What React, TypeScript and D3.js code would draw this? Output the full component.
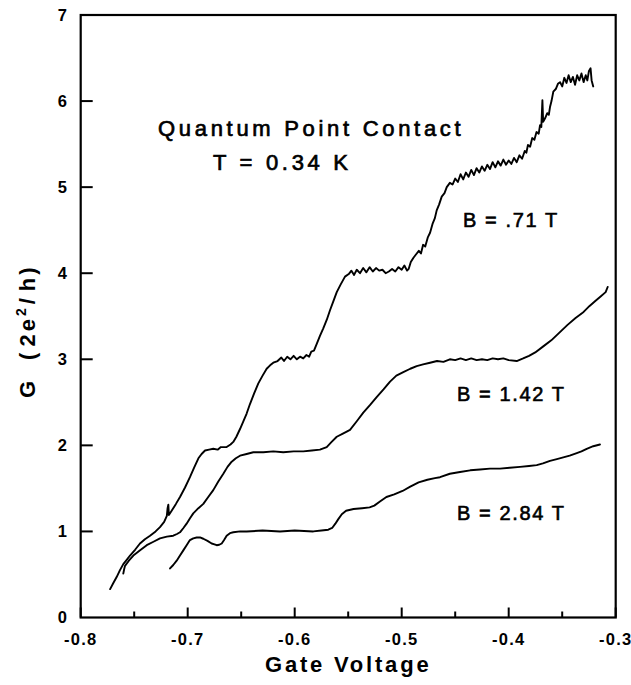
import React from "react";
import * as d3 from "d3";

type Pt = [number, number];

const xMajorTicks = [-0.8, -0.7, -0.6, -0.5, -0.4, -0.3];
const xTickLabels = ["-0.8", "-0.7", "-0.6", "-0.5", "-0.4", "-0.3"];
const xMinorTicks = [-0.75, -0.65, -0.55, -0.45, -0.35];
const yTicks = [0, 1, 2, 3, 4, 5, 6, 7];
const yTickLabels = ["0", "1", "2", "3", "4", "5", "6", "7"];

const seriesB071: Pt[] = [
  [-0.7725, 0.33], [-0.7695, 0.40], [-0.7664, 0.47], [-0.7633, 0.55], [-0.7602, 0.62], [-0.757, 0.67],
  [-0.7539, 0.72], [-0.749, 0.79], [-0.7446, 0.86], [-0.74, 0.91], [-0.7352, 0.95], [-0.73, 1.0],
  [-0.7259, 1.05], [-0.722, 1.11], [-0.7195, 1.18], [-0.7188, 1.27], [-0.7181, 1.31], [-0.7176, 1.19],
  [-0.715, 1.24], [-0.711, 1.32], [-0.7072, 1.40], [-0.7025, 1.51], [-0.6979, 1.63], [-0.694, 1.74],
  [-0.69, 1.85], [-0.687, 1.90], [-0.6838, 1.94], [-0.68, 1.95], [-0.6761, 1.96], [-0.672, 1.95],
  [-0.669, 1.98], [-0.6636, 1.98], [-0.66, 2.01], [-0.6574, 2.04], [-0.6545, 2.10], [-0.6511, 2.19],
  [-0.648, 2.28], [-0.6449, 2.37], [-0.6418, 2.48], [-0.638, 2.60], [-0.634, 2.72], [-0.63, 2.81],
  [-0.6262, 2.89], [-0.623, 2.93], [-0.62, 2.96], [-0.616, 2.98],
  [-0.6125, 3.02], [-0.61, 2.98], [-0.607, 3.03], [-0.604, 3.0], [-0.601, 3.04], [-0.598, 3.0],
  [-0.595, 3.03], [-0.592, 3.01], [-0.589, 3.05], [-0.5865, 3.03], [-0.5845, 3.09],
  [-0.582, 3.10], [-0.5794, 3.18], [-0.5765, 3.27], [-0.5733, 3.36], [-0.57, 3.46], [-0.567, 3.57],
  [-0.564, 3.67], [-0.5607, 3.78], [-0.557, 3.87], [-0.553, 3.96], [-0.5495, 3.99],
  [-0.547, 4.03], [-0.5445, 3.98], [-0.542, 4.04], [-0.539, 4.0], [-0.536, 4.06], [-0.533, 4.01],
  [-0.53, 4.07], [-0.527, 4.02], [-0.524, 4.06], [-0.521, 4.03], [-0.518, 4.04], [-0.515, 4.0],
  [-0.512, 4.02], [-0.509, 4.05], [-0.506, 4.02], [-0.503, 4.07], [-0.5, 4.04], [-0.4975, 4.09],
  [-0.495, 4.03], [-0.4935, 4.05],
  [-0.4915, 4.13], [-0.489, 4.18], [-0.4865, 4.22], [-0.484, 4.26], [-0.482, 4.23], [-0.48, 4.33],
  [-0.478, 4.31], [-0.4755, 4.42], [-0.4735, 4.47], [-0.471, 4.58], [-0.469, 4.64], [-0.4673, 4.73],
  [-0.465, 4.80], [-0.4626, 4.89], [-0.46, 4.93], [-0.4579, 5.0], [-0.455, 5.05],
  [-0.4525, 5.03], [-0.45, 5.10], [-0.4475, 5.06], [-0.445, 5.15], [-0.4425, 5.09], [-0.44, 5.17],
  [-0.4375, 5.12], [-0.435, 5.20], [-0.4325, 5.14], [-0.43, 5.22], [-0.4275, 5.17], [-0.425, 5.24],
  [-0.4225, 5.19], [-0.42, 5.26], [-0.4175, 5.21], [-0.415, 5.29], [-0.4125, 5.23], [-0.41, 5.30],
  [-0.4075, 5.25], [-0.405, 5.32], [-0.4025, 5.26], [-0.4, 5.31], [-0.3975, 5.27], [-0.395, 5.34],
  [-0.3925, 5.29], [-0.39, 5.37], [-0.3875, 5.33], [-0.385, 5.42],
  [-0.3835, 5.40], [-0.382, 5.49], [-0.38, 5.47], [-0.378, 5.57], [-0.376, 5.55], [-0.374, 5.64],
  [-0.372, 5.62], [-0.3707, 5.72], [-0.3695, 5.70], [-0.3685, 6.01], [-0.3678, 5.76], [-0.366, 5.80],
  [-0.364, 5.86], [-0.3625, 5.84], [-0.3614, 5.93], [-0.36, 6.0], [-0.3583, 6.11], [-0.356, 6.14],
  [-0.354, 6.20],
  [-0.352, 6.22], [-0.35, 6.17], [-0.348, 6.27], [-0.346, 6.21], [-0.344, 6.30], [-0.342, 6.22],
  [-0.34, 6.28], [-0.338, 6.19], [-0.336, 6.30], [-0.334, 6.24], [-0.332, 6.32], [-0.33, 6.22],
  [-0.328, 6.30], [-0.3265, 6.24], [-0.325, 6.35], [-0.3235, 6.38], [-0.3225, 6.24], [-0.321, 6.17],
];

const seriesB142: Pt[] = [
  [-0.7602, 0.51], [-0.7594, 0.56], [-0.7586, 0.60], [-0.755, 0.66], [-0.7508, 0.72], [-0.7445, 0.78],
  [-0.7383, 0.84], [-0.732, 0.88], [-0.7259, 0.92], [-0.7195, 0.94], [-0.7135, 0.95], [-0.71, 0.97],
  [-0.7072, 0.99], [-0.704, 1.04], [-0.701, 1.09], [-0.698, 1.15], [-0.6948, 1.21], [-0.69, 1.27],
  [-0.6854, 1.32], [-0.6808, 1.40], [-0.6761, 1.48], [-0.6714, 1.58], [-0.6667, 1.67], [-0.6628, 1.75],
  [-0.6589, 1.81], [-0.655, 1.85], [-0.6511, 1.88], [-0.6449, 1.90], [-0.6387, 1.92], [-0.6293, 1.92],
  [-0.62, 1.93], [-0.6107, 1.92], [-0.601, 1.93], [-0.592, 1.93], [-0.584, 1.94], [-0.5764, 1.95],
  [-0.5701, 1.98], [-0.5655, 2.04], [-0.5607, 2.10], [-0.5545, 2.14], [-0.5483, 2.18], [-0.542, 2.28],
  [-0.5359, 2.38], [-0.5295, 2.47], [-0.5234, 2.56], [-0.517, 2.65], [-0.5109, 2.74], [-0.505, 2.81],
  [-0.4985, 2.85], [-0.492, 2.89], [-0.486, 2.92], [-0.48, 2.94], [-0.4735, 2.96], [-0.467, 2.98],
  [-0.461, 2.97], [-0.455, 3.0], [-0.45, 2.99], [-0.445, 3.01], [-0.44, 2.99], [-0.435, 3.01],
  [-0.43, 2.99], [-0.425, 3.0], [-0.42, 2.99], [-0.415, 3.01], [-0.41, 3.0], [-0.405, 3.01],
  [-0.4, 2.99], [-0.3925, 2.98], [-0.3865, 3.01], [-0.381, 3.04], [-0.3752, 3.08], [-0.3677, 3.15],
  [-0.3602, 3.22], [-0.3526, 3.31], [-0.345, 3.40], [-0.3375, 3.48], [-0.33, 3.55], [-0.3244, 3.62],
  [-0.3188, 3.68], [-0.3141, 3.73], [-0.3094, 3.78], [-0.3075, 3.84],
];

const seriesB284: Pt[] = [
  [-0.7165, 0.57], [-0.7135, 0.61], [-0.7103, 0.66], [-0.7072, 0.72], [-0.7041, 0.78], [-0.701, 0.84],
  [-0.6979, 0.90], [-0.6948, 0.92], [-0.6916, 0.93], [-0.6885, 0.93], [-0.6854, 0.915], [-0.6815, 0.89],
  [-0.6776, 0.86], [-0.675, 0.85], [-0.6729, 0.84], [-0.6705, 0.845], [-0.6682, 0.86], [-0.666, 0.90],
  [-0.6636, 0.95], [-0.6605, 0.98], [-0.6574, 0.99], [-0.651, 1.0], [-0.6449, 1.0], [-0.63, 1.01],
  [-0.6137, 1.0], [-0.6, 1.01], [-0.5826, 1.0], [-0.575, 1.01], [-0.5686, 1.02], [-0.565, 1.04],
  [-0.562, 1.09], [-0.5594, 1.14], [-0.556, 1.20], [-0.552, 1.24], [-0.545, 1.26], [-0.537, 1.27],
  [-0.53, 1.28], [-0.5256, 1.30], [-0.52, 1.35], [-0.5143, 1.40], [-0.507, 1.43], [-0.4992, 1.47],
  [-0.492, 1.52], [-0.4842, 1.57], [-0.476, 1.60], [-0.469, 1.62], [-0.4642, 1.63], [-0.455, 1.67],
  [-0.4455, 1.69], [-0.436, 1.71], [-0.4268, 1.72], [-0.4175, 1.73], [-0.4081, 1.73], [-0.399, 1.74],
  [-0.3894, 1.75], [-0.381, 1.76], [-0.3738, 1.77], [-0.368, 1.79], [-0.3614, 1.82], [-0.355, 1.84],
  [-0.349, 1.86], [-0.343, 1.88], [-0.3364, 1.91], [-0.332, 1.93], [-0.3271, 1.96], [-0.321, 1.99],
  [-0.3147, 2.01],
];

const curveLabels = ["B = .71 T", "B = 1.42 T", "B = 2.84 T"];
const titleLines = ["Quantum Point Contact", "T = 0.34 K"];
const xAxisTitle = "Gate Voltage";

const W = 631;
const H = 685;
const FONT = "'Liberation Sans', Arial, Helvetica, sans-serif";

export default function App() {
  const x = d3.scaleLinear().domain([-0.8, -0.3]).range([80.7, 615.7]);
  const y = d3.scaleLinear().domain([0, 7]).range([617.5, 15]);
  const line = d3
    .line<Pt>()
    .x((d) => x(d[0]))
    .y((d) => y(d[1]));

  const series = [seriesB071, seriesB142, seriesB284];
  const labelPos = [
    { x: 463, y: 227 },
    { x: 457, y: 401 },
    { x: 457, y: 520 },
  ];

  return (
    <svg
      width={W}
      height={H}
      viewBox={`0 0 ${W} ${H}`}
      style={{ position: "absolute", left: 0, top: 0, background: "#fff" }}
    >
      <rect x={0} y={0} width={W} height={H} fill="#fff" />
      {/* frame */}
      <rect
        x={x(-0.8)}
        y={y(7)}
        width={x(-0.3) - x(-0.8)}
        height={y(0) - y(7)}
        fill="none"
        stroke="#000"
        strokeWidth={2.2}
      />
      {/* x ticks */}
      {xMajorTicks.map((t, i) => (
        <g key={"xm" + i}>
          <line x1={x(t)} x2={x(t)} y1={y(0)} y2={y(0) - 10} stroke="#000" strokeWidth={2} />
          <text
            x={x(t)}
            y={645}
            textAnchor="middle"
            fontFamily={FONT}
            fontWeight="bold"
            fontSize={16.5}
            letterSpacing={1.2}
          >
            {xTickLabels[i]}
          </text>
        </g>
      ))}
      {xMinorTicks.map((t, i) => (
        <line key={"xn" + i} x1={x(t)} x2={x(t)} y1={y(0)} y2={y(0) - 6} stroke="#000" strokeWidth={2} />
      ))}
      {/* y ticks */}
      {yTicks.map((t, i) => (
        <g key={"y" + i}>
          {t > 0 && t < 7 && (
            <line x1={x(-0.8)} x2={x(-0.8) + 12} y1={y(t)} y2={y(t)} stroke="#000" strokeWidth={2} />
          )}
          <text
            x={67}
            y={y(t)}
            dy="0.36em"
            textAnchor="end"
            fontFamily={FONT}
            fontWeight="bold"
            fontSize={16.5}
          >
            {yTickLabels[i]}
          </text>
        </g>
      ))}
      {/* curves */}
      {series.map((s, i) => (
        <path
          key={"s" + i}
          d={line(s) || ""}
          fill="none"
          stroke="#000"
          strokeWidth={1.9}
          strokeLinejoin="round"
          strokeLinecap="round"
        />
      ))}
      {/* curve labels */}
      {curveLabels.map((l, i) => (
        <text
          key={"l" + i}
          x={labelPos[i].x}
          y={labelPos[i].y}
          fontFamily={FONT}
          fontSize={20}
          letterSpacing={1.6}
          stroke="#000"
          strokeWidth={0.6}
          style={{ whiteSpace: "pre" }}
        >
          {l}
        </text>
      ))}
      {/* title */}
      <text
        x={158}
        y={136}
        fontFamily={FONT}
        fontSize={22}
        letterSpacing={3.7}
        stroke="#000"
        strokeWidth={0.7}
      >
        {titleLines[0]}
      </text>
      <text
        x={213}
        y={170}
        fontFamily={FONT}
        fontSize={22}
        letterSpacing={3.7}
        stroke="#000"
        strokeWidth={0.7}
      >
        {titleLines[1]}
      </text>
      {/* x axis title */}
      <text
        x={(x(-0.8) + x(-0.3)) / 2}
        y={672}
        textAnchor="middle"
        fontFamily={FONT}
        fontWeight="bold"
        fontSize={22}
        letterSpacing={2.8}
      >
        {xAxisTitle}
      </text>
      {/* y axis title */}
      <text
        transform="translate(35,398) rotate(-90)"
        fontFamily={FONT}
        fontWeight="bold"
        fontSize={22}
        letterSpacing={3}
      >
        <tspan>G</tspan>
        <tspan dx={18}>(</tspan>
        <tspan dx={3}>2e</tspan>
        <tspan dy={-9} fontSize={14}>2</tspan>
        <tspan dy={9} dx={1}>/</tspan>
        <tspan dx={4}>h)</tspan>
      </text>
    </svg>
  );
}
